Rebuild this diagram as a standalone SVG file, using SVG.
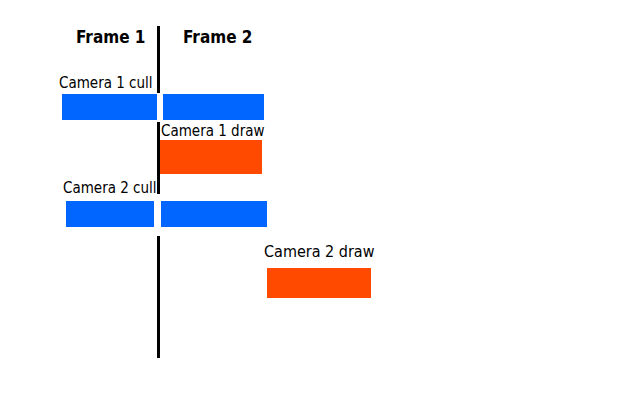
<svg xmlns="http://www.w3.org/2000/svg" width="640" height="400" viewBox="0 0 640 400">
<style>
text{font-family:"DejaVu Sans Condensed","DejaVu Sans",sans-serif;font-stretch:condensed;fill:#000}
.h{font-weight:bold;font-size:17px}
.l{font-size:15px}
.cull{fill:#0066ff}
.draw{fill:#ff4a00}
.div{stroke:#000;stroke-width:3;fill:none}
</style>
<rect width="640" height="400" fill="#fff"/>
<g id="connectors">
<line class="div" x1="158.5" y1="26" x2="158.5" y2="93"/>
<line class="div" x1="158.5" y1="122" x2="158.5" y2="194"/>
<line class="div" x1="158.5" y1="236" x2="158.5" y2="358"/>
</g>
<g id="frame1"><text class="h" x="76" y="43">Frame 1</text></g>
<g id="frame2"><text class="h" x="183" y="43">Frame 2</text></g>
<g id="cam1cull">
<text class="l" x="59" y="88">Camera 1 cull</text>
<rect class="cull" x="62" y="94" width="95" height="26"/>
<rect class="cull" x="163" y="94" width="101" height="26"/>
</g>
<g id="cam1draw">
<text class="l" x="161" y="136">Camera 1 draw</text>
<rect class="draw" x="160" y="140" width="102" height="34"/>
</g>
<g id="cam2cull">
<text class="l" x="63" y="193">Camera 2 cull</text>
<rect class="cull" x="66" y="201" width="88" height="26"/>
<rect class="cull" x="161" y="201" width="106" height="26"/>
</g>
<g id="cam2draw">
<text class="l" x="264" y="257" style="font-size:16px">Camera 2 draw</text>
<rect class="draw" x="267" y="268" width="104" height="30"/>
</g>
</svg>
